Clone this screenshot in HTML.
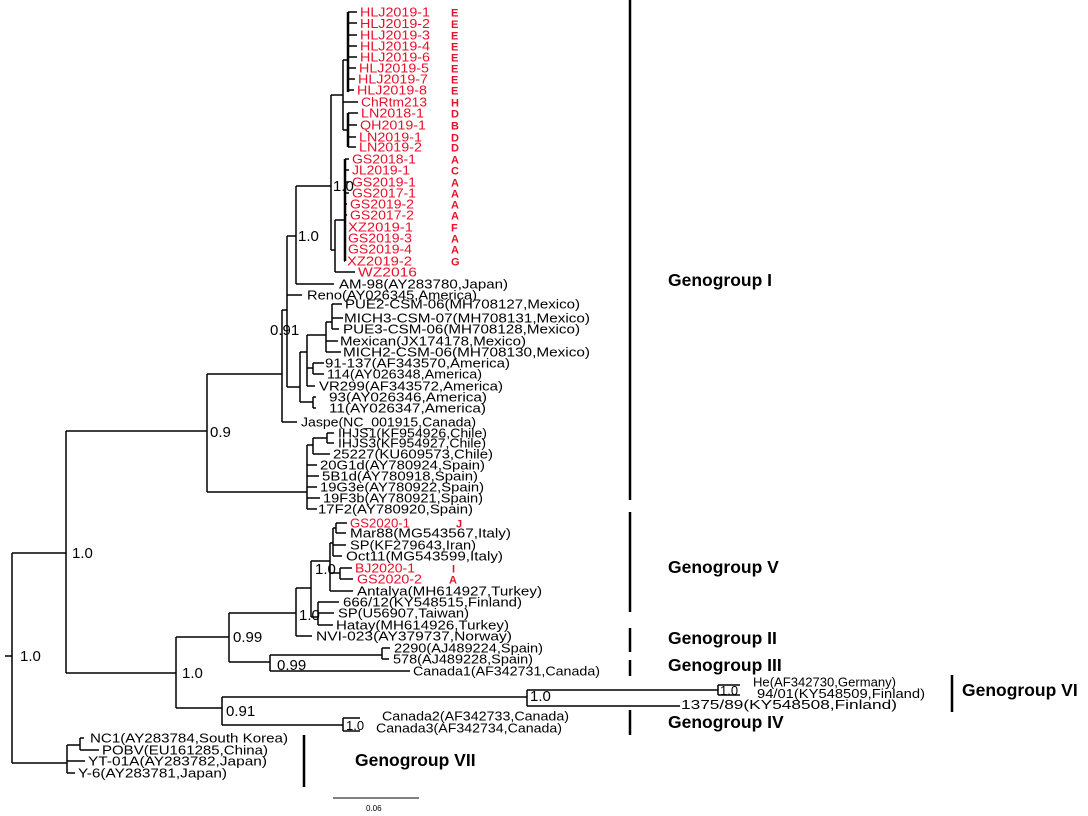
<!DOCTYPE html>
<html><head><meta charset="utf-8"><style>
html,body{margin:0;padding:0;background:#fff}
svg{display:block}
text{font-family:"Liberation Sans",sans-serif}
.l{font-size:12.8px}
.r{fill:#e8102a}
.b{font-size:11px;font-weight:bold;fill:#e8102a}
.n{font-size:15px}
.g{font-size:17.5px;font-weight:bold}
</style></head><body>
<svg width="1088" height="816" viewBox="0 0 1088 816" xmlns="http://www.w3.org/2000/svg">
<g stroke="#000" stroke-width="1.5" fill="none">
<path d="M5 656H12M12 553V763M12 553H66M12 763H67"/>
<path d="M66 431V673M66 431H207M66 673H176"/>
<path d="M207 374V492M207 374H282M282 310V422M282 310H287M282 422H297"/>
<path d="M287 236V387M287 236H296M287 295H302M287 387H300"/>
<path d="M296 186V284M296 186H331M296 284H334"/>
<path d="M331 95V250M331 95H343M331 250H335M335 220V272M335 220H345M335 272H355"/>
<path d="M343 60V130M343 60H348M343 102H358M343 130H348"/>
<path d="M348 12V92M348 113V147" stroke-width="2.5"/>
<path d="M348 12H357M348 23H357M348 35H357M348 46H357M348 57H357M348 68H356M348 79H355M348 90H354M348 113H358M348 125H357M348 137H356M348 147H356"/>
<path d="M345 159V261" stroke-width="2.5"/>
<path d="M345 159H349M345 170H349M345 182H349M345 193H349M345 204H347M345 215H347M345 227H345M345 238H345M345 249H345M345 261H344"/>
<path d="M300 352V402M300 402H313M313 397V408M313 397H316M313 408H316"/>
<path d="M300 352H307M307 335V386M307 386H315M307 368H313M313 363V374M313 363H324M313 374H324"/>
<path d="M307 335H326M326 322V352M326 352H341M326 341H338M326 322H332M332 304V329M332 304H342M332 318H343M332 329H339"/>
<path d="M207 492H307M307 445V509M307 445H313M313 438V454M313 438H327M327 433V443M327 433H334M327 443H334M313 454H330"/>
<path d="M307 465H317M307 476H319M307 487H317M307 498H320M307 509H317"/>
<path d="M176 637V708M176 637H229M229 613V662M229 613H296M296 588V636M296 636H312M296 588H311"/>
<path d="M311 561V617M311 617H318M318 602V625M318 602H339M318 613H334M318 625H333"/>
<path d="M311 561H330M330 543V591M330 591H353M330 543H333M333 528V556M333 528H336M336 523V533M336 523H347M336 533H346M333 545H346M333 556H342"/>
<path d="M330 573H340M340 568V579M340 568H352M340 579H353"/>
<path d="M229 662H270M270 655V671M270 655H382M382 648V659M382 648H390M382 659H389M270 671H410"/>
<path d="M176 708H222M222 697V725M222 697H527M527 690V706M527 690H718M527 706H680M718 685V695M718 685H740M718 695H740"/>
<path d="M222 725H343M343 718V731M343 718H360M343 731H360"/>
<path d="M67 745V773M67 773H75M67 761H85M67 745H80M80 738V750M80 738H84M80 750H99"/>
<path d="M630 0V500M630 512V612M630 628V652M630 660V676M630 710V735M952 675V712M304 735V787" stroke-width="2.5"/>
<path d="M333 798H419" stroke-width="1"/>
</g>
<g class="l r" lengthAdjust="spacingAndGlyphs">
<text x="360" y="16.5" textLength="70" lengthAdjust="spacingAndGlyphs">HLJ2019-1</text><text x="360" y="28" textLength="70" lengthAdjust="spacingAndGlyphs">HLJ2019-2</text><text x="360" y="39.5" textLength="70" lengthAdjust="spacingAndGlyphs">HLJ2019-3</text><text x="360" y="50.5" textLength="70" lengthAdjust="spacingAndGlyphs">HLJ2019-4</text><text x="360" y="61.5" textLength="70" lengthAdjust="spacingAndGlyphs">HLJ2019-6</text><text x="359" y="72.5" textLength="70" lengthAdjust="spacingAndGlyphs">HLJ2019-5</text><text x="358" y="83.5" textLength="70" lengthAdjust="spacingAndGlyphs">HLJ2019-7</text><text x="357" y="94.5" textLength="70" lengthAdjust="spacingAndGlyphs">HLJ2019-8</text><text x="361" y="106.5" textLength="66" lengthAdjust="spacingAndGlyphs">ChRtm213</text><text x="361" y="117.5" textLength="63" lengthAdjust="spacingAndGlyphs">LN2018-1</text><text x="360" y="129.5" textLength="66" lengthAdjust="spacingAndGlyphs">QH2019-1</text><text x="359" y="141.5" textLength="63" lengthAdjust="spacingAndGlyphs">LN2019-1</text><text x="359" y="151.5" textLength="63" lengthAdjust="spacingAndGlyphs">LN2019-2</text><text x="352" y="163.5" textLength="64" lengthAdjust="spacingAndGlyphs">GS2018-1</text><text x="352" y="174.5" textLength="58" lengthAdjust="spacingAndGlyphs">JL2019-1</text><text x="352" y="186.5" textLength="64" lengthAdjust="spacingAndGlyphs">GS2019-1</text><text x="352" y="197.5" textLength="64" lengthAdjust="spacingAndGlyphs">GS2017-1</text><text x="350" y="208.5" textLength="64" lengthAdjust="spacingAndGlyphs">GS2019-2</text><text x="350" y="219.5" textLength="64" lengthAdjust="spacingAndGlyphs">GS2017-2</text><text x="348" y="231.5" textLength="65" lengthAdjust="spacingAndGlyphs">XZ2019-1</text><text x="348" y="242.5" textLength="64" lengthAdjust="spacingAndGlyphs">GS2019-3</text><text x="348" y="253.5" textLength="64" lengthAdjust="spacingAndGlyphs">GS2019-4</text><text x="347" y="265.5" textLength="65" lengthAdjust="spacingAndGlyphs">XZ2019-2</text><text x="358" y="276.5" textLength="59" lengthAdjust="spacingAndGlyphs">WZ2016</text>
<text x="350" y="527.5" textLength="60" lengthAdjust="spacingAndGlyphs">GS2020-1</text><text x="355" y="572.5" textLength="60" lengthAdjust="spacingAndGlyphs">BJ2020-1</text><text x="357" y="583.5" textLength="65" lengthAdjust="spacingAndGlyphs">GS2020-2</text>
</g>
<g class="b">
<text x="451" y="16.5">E</text><text x="451" y="28">E</text><text x="451" y="39.5">E</text><text x="451" y="50.5">E</text><text x="451" y="61.5">E</text><text x="451" y="72.5">E</text><text x="451" y="83.5">E</text><text x="451" y="94.5">E</text><text x="451" y="106.5">H</text><text x="451" y="117.5">D</text><text x="451" y="129.5">B</text><text x="451" y="141.5">D</text><text x="451" y="151.5">D</text><text x="451" y="163.5">A</text><text x="451" y="174.5">C</text><text x="451" y="186.5">A</text><text x="451" y="197.5">A</text><text x="451" y="208.5">A</text><text x="451" y="219.5">A</text><text x="451" y="231.5">F</text><text x="451" y="242.5">A</text><text x="451" y="253.5">A</text><text x="451" y="265.5">G</text>
<text x="456" y="527.5">J</text><text x="452" y="572.5">I</text><text x="449" y="583.5">A</text>
</g>
<g class="l">
<text x="339" y="288.5" textLength="169" lengthAdjust="spacingAndGlyphs">AM-98(AY283780,Japan)</text>
<text x="307" y="299.5" textLength="170" lengthAdjust="spacingAndGlyphs">Reno(AY026345,America)</text>
<text x="345" y="308.5" textLength="235" lengthAdjust="spacingAndGlyphs">PUE2-CSM-06(MH708127,Mexico)</text>
<text x="344" y="322.5" textLength="246" lengthAdjust="spacingAndGlyphs">MICH3-CSM-07(MH708131,Mexico)</text>
<text x="343" y="333.5" textLength="237" lengthAdjust="spacingAndGlyphs">PUE3-CSM-06(MH708128,Mexico)</text>
<text x="340" y="345.5" textLength="186" lengthAdjust="spacingAndGlyphs">Mexican(JX174178,Mexico)</text>
<text x="343" y="356.5" textLength="247" lengthAdjust="spacingAndGlyphs">MICH2-CSM-06(MH708130,Mexico)</text>
<text x="325" y="367.5" textLength="185" lengthAdjust="spacingAndGlyphs">91-137(AF343570,America)</text>
<text x="327" y="378.5" textLength="155" lengthAdjust="spacingAndGlyphs">114(AY026348,America)</text>
<text x="319" y="390.5" textLength="184" lengthAdjust="spacingAndGlyphs">VR299(AF343572,America)</text>
<text x="329" y="401.5" textLength="158" lengthAdjust="spacingAndGlyphs">93(AY026346,America)</text>
<text x="329" y="412.5" textLength="157" lengthAdjust="spacingAndGlyphs">11(AY026347,America)</text>
<text x="301" y="426.5" textLength="175" lengthAdjust="spacingAndGlyphs">Jaspe(NC_001915,Canada)</text>
<text x="338" y="437.5" textLength="149" lengthAdjust="spacingAndGlyphs">IHJS1(KF954926,Chile)</text>
<text x="338" y="447.5" textLength="148" lengthAdjust="spacingAndGlyphs">IHJS3(KF954927,Chile)</text>
<text x="333" y="458.5" textLength="160" lengthAdjust="spacingAndGlyphs">25227(KU609573,Chile)</text>
<text x="320" y="469.5" textLength="165" lengthAdjust="spacingAndGlyphs">20G1d(AY780924,Spain)</text>
<text x="322" y="480.5" textLength="156" lengthAdjust="spacingAndGlyphs">5B1d(AY780918,Spain)</text>
<text x="320" y="491.5" textLength="164" lengthAdjust="spacingAndGlyphs">19G3e(AY780922,Spain)</text>
<text x="323" y="502.5" textLength="160" lengthAdjust="spacingAndGlyphs">19F3b(AY780921,Spain)</text>
<text x="318" y="513.5" textLength="155" lengthAdjust="spacingAndGlyphs">17F2(AY780920,Spain)</text>
<text x="350" y="537.5" textLength="161" lengthAdjust="spacingAndGlyphs">Mar88(MG543567,Italy)</text>
<text x="350" y="549.5" textLength="126" lengthAdjust="spacingAndGlyphs">SP(KF279643,Iran)</text>
<text x="346" y="560.5" textLength="157" lengthAdjust="spacingAndGlyphs">Oct11(MG543599,Italy)</text>
<text x="357" y="595.5" textLength="185" lengthAdjust="spacingAndGlyphs">Antalya(MH614927,Turkey)</text>
<text x="343" y="606.5" textLength="179" lengthAdjust="spacingAndGlyphs">666/12(KY548515,Finland)</text>
<text x="338" y="617.5" textLength="131" lengthAdjust="spacingAndGlyphs">SP(U56907,Taiwan)</text>
<text x="336" y="629.5" textLength="173" lengthAdjust="spacingAndGlyphs">Hatay(MH614926,Turkey)</text>
<text x="316" y="640.5" textLength="196" lengthAdjust="spacingAndGlyphs">NVI-023(AY379737,Norway)</text>
<text x="394" y="652.5" textLength="149" lengthAdjust="spacingAndGlyphs">2290(AJ489224,Spain)</text>
<text x="393" y="663.5" textLength="140" lengthAdjust="spacingAndGlyphs">578(AJ489228,Spain)</text>
<text x="413" y="675.5" textLength="187" lengthAdjust="spacingAndGlyphs">Canada1(AF342731,Canada)</text>
<text x="753" y="686.5" textLength="143" lengthAdjust="spacingAndGlyphs">He(AF342730,Germany)</text>
<text x="757" y="698" textLength="168" lengthAdjust="spacingAndGlyphs">94/01(KY548509,Finland)</text>
<text x="681" y="709" textLength="216" lengthAdjust="spacingAndGlyphs">1375/89(KY548508,Finland)</text>
<text x="382" y="720.5" textLength="187" lengthAdjust="spacingAndGlyphs">Canada2(AF342733,Canada)</text>
<text x="376" y="732.5" textLength="186" lengthAdjust="spacingAndGlyphs">Canada3(AF342734,Canada)</text>
<text x="90" y="742.5" textLength="198" lengthAdjust="spacingAndGlyphs">NC1(AY283784,South Korea)</text>
<text x="102" y="754.5" textLength="166" lengthAdjust="spacingAndGlyphs">POBV(EU161285,China)</text>
<text x="88" y="765.5" textLength="179" lengthAdjust="spacingAndGlyphs">YT-01A(AY283782,Japan)</text>
<text x="78" y="777.5" textLength="149" lengthAdjust="spacingAndGlyphs">Y-6(AY283781,Japan)</text>
</g>
<g class="n">
<text x="20" y="661">1.0</text><text x="72" y="558">1.0</text><text x="210" y="437">0.9</text><text x="298" y="241">1.0</text><text x="333" y="191">1.0</text><text x="270" y="335">0.91</text><text x="182" y="678">1.0</text><text x="233" y="642">0.99</text><text x="277" y="670">0.99</text><text x="315" y="574">1.0</text><text x="299" y="620">1.0</text><text x="226" y="716">0.91</text><text x="530" y="701">1.0</text>
</g>
<text x="720" y="695" style="font-size:13px">1.0</text><text x="346" y="730" style="font-size:13px">1.0</text>
<text x="366" y="811" style="font-size:8px">0.06</text>
<g class="g">
<text x="668" y="286">Genogroup I</text><text x="668" y="573">Genogroup V</text><text x="668" y="644">Genogroup II</text><text x="668" y="671">Genogroup III</text><text x="668" y="728">Genogroup IV</text><text x="962" y="696">Genogroup VI</text><text x="355" y="766">Genogroup VII</text>
</g>
</svg>
</body></html>
